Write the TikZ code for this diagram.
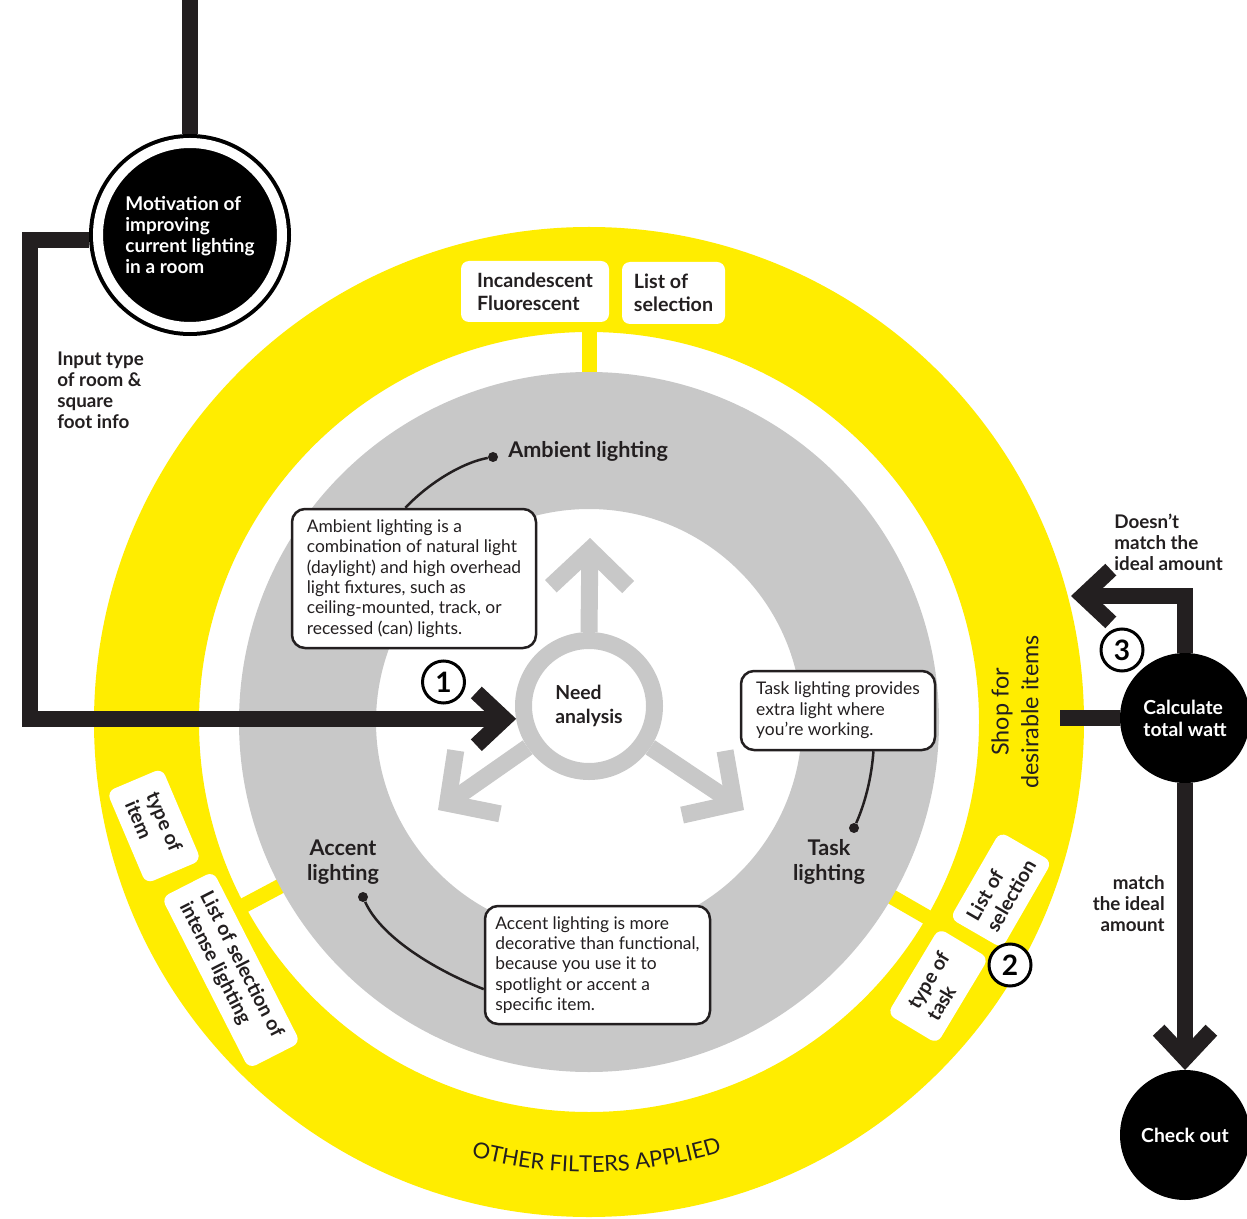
\documentclass[tikz,border=0pt]{standalone}
\usepackage{fontspec}
\setmainfont{Lato}
\usetikzlibrary{arrows.meta,calc,decorations.text}

\definecolor{lampyellow}{RGB}{255,237,0}
\definecolor{ringgray}{RGB}{200,200,200}
\definecolor{ink}{RGB}{35,31,32}
\newlength\pix
\setlength\pix{0.02cm}

\begin{document}
\begin{tikzpicture}[x=\pix,y=-\pix,
    flow/.style={draw=ink,line width=16\pix},
    flowtip/.style={-{Straight Barb[length=16pt,width=30pt,sharp]}},
    hubarrow/.style={draw=ringgray,line width=17\pix,-{Straight Barb[length=21pt,width=44pt,sharp]}},
    hub/.style={circle,draw=ringgray,line width=17\pix,minimum size=131\pix,inner sep=0pt,
      text=ink,font=\bfseries\fontsize{11}{13.5}\selectfont,align=left},
    blackdisc/.style={circle,fill=black,text=white,inner sep=0pt,outer sep=0pt,minimum size=130\pix,
      font=\bfseries\fontsize{11}{12.5}\selectfont,align=left},
    filterbox/.style={fill=white,rounded corners=8\pix,text=ink,inner sep=0pt,
      font=\bfseries\fontsize{11.2}{13}\selectfont,align=left},
    callout/.style={draw=ink,line width=2.5\pix,fill=white,rounded corners=13\pix,inner sep=0pt,
      text=ink,font=\fontsize{9.9}{11.6}\selectfont,align=left},
    label/.style={text=ink,font=\bfseries\fontsize{12.3}{14}\selectfont,inner sep=0pt},
    note/.style={text=ink,font=\bfseries\fontsize{10.7}{12}\selectfont,inner sep=0pt},
    numbadge/.style={circle,draw=black,line width=3\pix,fill=white,minimum size=42\pix,inner sep=0pt,
      font=\bfseries\fontsize{16}{16}\selectfont},
    pin/.style={circle,fill=ink,minimum size=10\pix,inner sep=0pt},
    lead/.style={draw=ink,line width=2.5\pix}]

    \useasboundingbox (0,0) rectangle (1247,1219);
    \fill[white] (0,0) rectangle (1247,1219);

    % rings
    \coordinate (ctr) at (589,722);
    \fill[lampyellow,even odd rule] (ctr) circle[radius=495] (ctr) circle[radius=390];
    \foreach \a in {270,30,152}
      \draw[lampyellow,line width=15\pix] (ctr) ++(\a:340) -- ++(\a:60);
    \fill[ringgray,even odd rule] (ctr) circle[radius=350] (ctr) circle[radius=213];

    \path[decorate,decoration={text along path,text align=center,text color=ink,
      text={|\fontsize{12.5}{12.5}\selectfont|OTHER FILTERS APPLIED}}]
      (ctr) ++(117:450) arc[start angle=117,end angle=61,radius=450];

    % filters on the yellow ring
    \node at (535,291.5) [filterbox,minimum width=148\pix,minimum height=61\pix] (fltype) {Incandescent\\Fluorescent};
    \node at (673.5,293) [filterbox,minimum width=103\pix,minimum height=62\pix] (fllist) {List of\\selection};
    \node at (154,826) [filterbox,rotate=-67,minimum width=100\pix,minimum height=60\pix] (accitem) {type of\\item};
    \node at (231,970) [filterbox,rotate=-63,minimum width=192\pix,minimum height=58\pix] (acclist) {List of selection of\\intense lighting};
    \node at (1001,890) [filterbox,rotate=60,minimum width=100\pix,minimum height=60\pix] (tasklist) {List of\\selection};
    \node at (938,986) [filterbox,rotate=59,minimum width=100\pix,minimum height=58\pix] (tasktype) {type of\\task};

    \node at (1015,712) [rotate=90,text=ink,font=\fontsize{13.3}{17}\selectfont,align=center,inner sep=0pt]
      (shop) {Shop for\\desirable items};

    % need analysis hub
    \node at (589,706) [hub] (need) {Need\\analysis};
    \coordinate (ambTip) at (590,538);
    \coordinate (taskTip) at (744,810);
    \coordinate (accTip) at (438,810);
    \draw[hubarrow] (need.north) -- (ambTip);
    \draw[hubarrow] (need.-34) -- (taskTip);
    \draw[hubarrow] (need.214) -- (accTip);

    % callouts
    \node at (508,451) [label,anchor=west] (amblbl) {Ambient lighting};
    \node at (493,457) [pin] (ambpin) {};
    \node at (414,578.5) [callout,minimum width=244\pix,minimum height=139\pix] (ambbox)
      {Ambient lighting is a\\combination of natural light\\(daylight) and high overhead\\light fixtures, such as\\ceiling-mounted, track, or\\recessed (can) lights.};
    \draw[lead] (ambbox.97) .. controls (432,480) and (465,462) .. (ambpin);

    \node at (829,862) [label,align=center] (tasklbl) {Task\\lighting};
    \node at (854,828) [pin] (taskpin) {};
    \node at (838,710.5) [callout,minimum width=194\pix,minimum height=79\pix] (taskbox)
      {Task lighting provides\\extra light where\\you’re working.};
    \draw[lead] (taskbox.-49) .. controls (871,785) and (862,810) .. (taskpin);

    \node at (343,862) [label,align=center] (acclbl) {Accent\\lighting};
    \node at (363,897) [pin] (accpin) {};
    \node at (597.5,965) [callout,minimum width=225\pix,minimum height=118\pix] (accbox)
      {Accent lighting is more\\decorative than functional,\\because you use it to\\spotlight or accent a\\specific item.};
    \draw[lead] (accbox.192) .. controls (430,968) and (380,935) .. (accpin);

    % flow
    \node at (190,235) [circle,fill=black,draw=black,double=white,double distance=10\pix,line width=4\pix,
      minimum size=184\pix,inner sep=0pt,outer sep=9\pix,text=white,align=left,
      font=\bfseries\fontsize{10.8}{12}\selectfont] (motiv)
      {Motivation of\\improving\\current lighting\\in a room};
    \coordinate (start) at (190,0);
    \draw[flow] (start) -- (motiv.north);
    \draw[flow,flowtip] (motiv.183) -- ++(-59,0) |- (need.190);
    \node at (57,390) [note,anchor=west,align=left] (input) {Input type\\of room \&\\square\\foot info};
    \node at (443.5,682) [numbadge] (one) {1};

    \node at (1185,718) [blackdisc] (calc) {Calculate\\total watt};
    \node at (1185,1135) [blackdisc] (checkout) {Check out};
    \coordinate (shopin) at (1060,718);
    \coordinate (shopback) at (1071,596);
    \draw[flow] (calc.west) -- (shopin);
    \draw[flow,flowtip] (calc.north) |- (shopback);
    \draw[flow,flowtip] (calc.south) -- (checkout.north);
    \node at (1114,542) [note,anchor=west,align=left] (nomatch) {Doesn’t\\match the\\ideal amount};
    \node at (1165,904) [note,anchor=east,align=right] (match) {match\\the ideal\\amount};
    \node at (1122,650) [numbadge] (three) {3};
    \node at (1010,965) [numbadge] (two) {2};
\end{tikzpicture}
\end{document}
